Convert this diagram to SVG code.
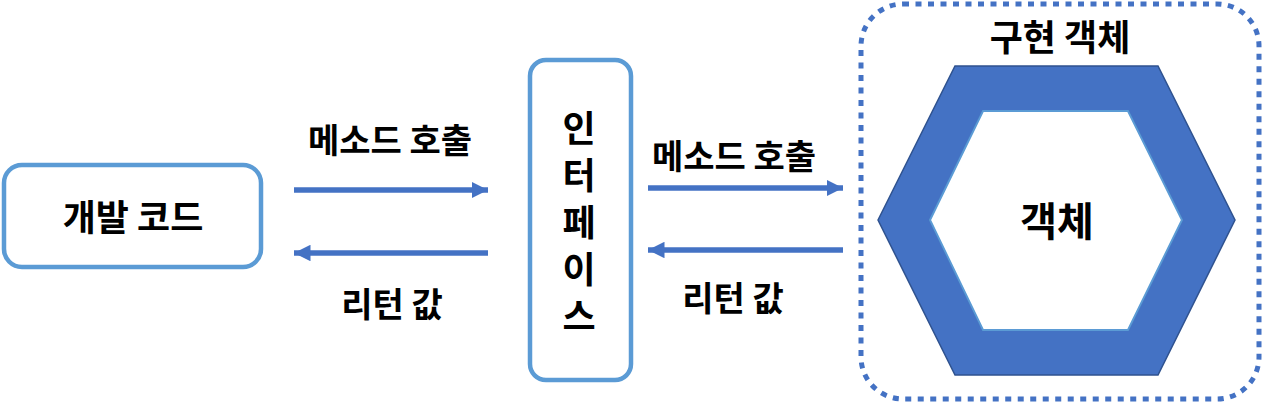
<svg xmlns="http://www.w3.org/2000/svg" width="1263" height="404" viewBox="0 0 1263 404">
<defs>
<marker id="ah" viewBox="0 0 10 10" refX="10" refY="5" markerWidth="3" markerHeight="3" orient="auto" markerUnits="strokeWidth">
<path d="M0,0 L10,5 L0,10 Z" fill="#4472C4"/>
</marker>
<style>
text{font-family:"Noto Sans CJK KR","Noto Sans",sans-serif;font-weight:bold;fill:#000;text-anchor:middle}
.box{fill:#fff;stroke:#5B9BD5;stroke-width:4.5}
.arr{stroke:#4472C4;stroke-width:5.5;fill:none;marker-end:url(#ah)}
.lbl{font-size:34px}
.nd{font-size:36px}
.vert{writing-mode:vertical-rl;text-orientation:upright;letter-spacing:11px}
</style>
</defs>
<rect width="1263" height="404" fill="#fff"/>
<g id="dev-code">
<rect class="box" x="4" y="165" width="257" height="102" rx="18"/>
<text class="nd" x="133" y="231">개발 코드</text>
</g>
<g id="interface">
<rect class="box" x="530" y="60" width="101" height="320" rx="16"/>
<text class="nd vert" x="579" y="228">인터페이스</text>
</g>
<g id="impl-object">
<rect x="861" y="4" width="398" height="395" rx="42" fill="none" stroke="#4472C4" stroke-width="5" stroke-dasharray="6 6.5"/>
<text class="nd" x="1060" y="51">구현 객체</text>
</g>
<g id="object">
<path d="M878,220 L955,66 L1158,66 L1235,220 L1158,375 L955,375 Z M930,220 L983,111 L1128,111 L1182,220 L1128,330 L983,330 Z" fill="#4472C4" fill-rule="evenodd" stroke="#2F528F" stroke-width="1.5"/>
<path d="M930,220 L983,111 L1128,111 L1182,220 L1128,330 L983,330 Z" fill="#fff" stroke="#5B9BD5" stroke-width="2"/>
<text x="1057" y="236" font-size="40px">객체</text>
</g>
<g id="connectors">
<line class="arr" x1="294" y1="190" x2="488" y2="190"/>
<line class="arr" x1="488" y1="253" x2="294" y2="253"/>
<line class="arr" x1="648" y1="188" x2="843" y2="188"/>
<line class="arr" x1="843" y1="250" x2="648" y2="250"/>
<text class="lbl" x="390" y="153">메소드 호출</text>
<text class="lbl" x="392" y="317">리턴 값</text>
<text class="lbl" x="734" y="169">메소드 호출</text>
<text class="lbl" x="733" y="311">리턴 값</text>
</g>
</svg>
